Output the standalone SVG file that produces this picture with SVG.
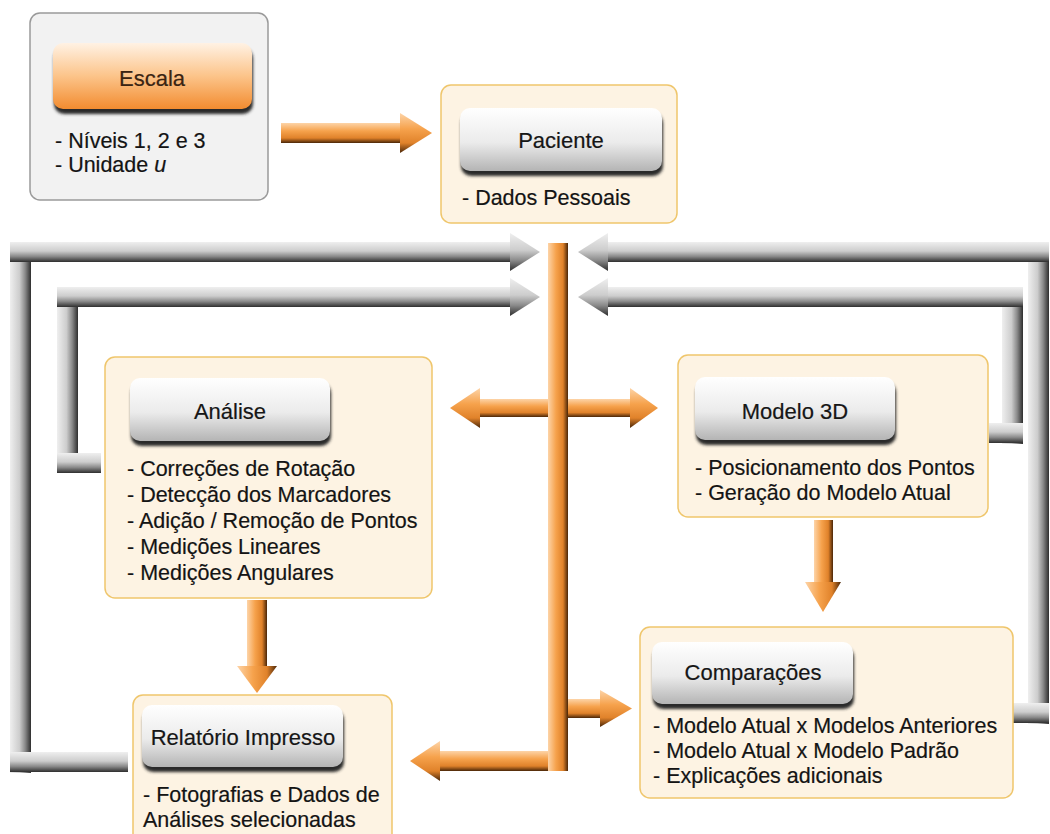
<svg xmlns="http://www.w3.org/2000/svg" width="1050" height="834" viewBox="0 0 1050 834">
<style>
.title{font-family:"Liberation Sans",Arial,sans-serif;font-size:22px;fill:#161616;stroke:#161616;stroke-width:0.2;text-anchor:middle}
.body{font-family:"Liberation Sans",Arial,sans-serif;font-size:21.5px;fill:#141414;stroke:#141414;stroke-width:0.2}
.box{fill:#fdf3e3;stroke:#efc66c;stroke-width:1.5}
.gbox{fill:#f2f2f2;stroke:#9a9a9a;stroke-width:1.5}
.shadow{fill:#2a2a2a;filter:url(#blur)}
</style>
<defs>
<filter id="blur" x="-10%" y="-20%" width="120%" height="150%"><feGaussianBlur stdDeviation="1.6"/></filter>
<linearGradient id="oV" x1="0" y1="0" x2="0" y2="1">
<stop offset="0" stop-color="#fdd4a8"/><stop offset="0.4" stop-color="#f6a24c"/><stop offset="0.75" stop-color="#e0822a"/><stop offset="1" stop-color="#4a2608"/>
</linearGradient>
<linearGradient id="oH" x1="0" y1="0" x2="1" y2="0">
<stop offset="0" stop-color="#fdd4a8"/><stop offset="0.4" stop-color="#f6a24c"/><stop offset="0.75" stop-color="#e0822a"/><stop offset="1" stop-color="#4a2608"/>
</linearGradient>
<linearGradient id="gV" x1="0" y1="0" x2="0" y2="1">
<stop offset="0" stop-color="#efefef"/><stop offset="0.45" stop-color="#cdcdcd"/><stop offset="0.72" stop-color="#8a8a8a"/><stop offset="1" stop-color="#2e2e2e"/>
</linearGradient>
<linearGradient id="gH" x1="0" y1="0" x2="1" y2="0">
<stop offset="0" stop-color="#efefef"/><stop offset="0.45" stop-color="#cdcdcd"/><stop offset="0.72" stop-color="#8a8a8a"/><stop offset="1" stop-color="#2e2e2e"/>
</linearGradient>
<linearGradient id="btnO" x1="0" y1="0" x2="0" y2="1">
<stop offset="0" stop-color="#fff2e4"/><stop offset="0.5" stop-color="#fcc48a"/><stop offset="1" stop-color="#f28c30"/>
</linearGradient>
<linearGradient id="btnG" x1="0" y1="0" x2="0" y2="1">
<stop offset="0" stop-color="#ffffff"/><stop offset="0.55" stop-color="#ebebeb"/><stop offset="1" stop-color="#b4b4b4"/>
</linearGradient>
</defs>

<g id="connectors">
  <!-- gray feedback pipes, left outer -->
  <rect x="10" y="242" width="21" height="531" fill="url(#gH)"/>
  <rect x="10" y="242" width="502" height="20" fill="url(#gV)"/>
  <polygon points="510,233 540,252 510,271" fill="url(#gV)"/>
  <rect x="10" y="752" width="118" height="20" fill="url(#gV)"/>
  <!-- left inner -->
  <rect x="57" y="287" width="21" height="186" fill="url(#gH)"/>
  <rect x="57" y="287" width="455" height="20" fill="url(#gV)"/>
  <polygon points="510,278 540,297 510,316" fill="url(#gV)"/>
  <rect x="57" y="453" width="44" height="20" fill="url(#gV)"/>
  <!-- right outer -->
  <rect x="1028" y="242" width="21" height="482" fill="url(#gH)"/>
  <rect x="606" y="242" width="443" height="20" fill="url(#gV)"/>
  <polygon points="608,233 578,252 608,271" fill="url(#gV)"/>
  <rect x="1013" y="703" width="36" height="20" fill="url(#gV)"/>
  <!-- right inner -->
  <rect x="1002" y="287" width="21" height="157" fill="url(#gH)"/>
  <rect x="606" y="287" width="417" height="20" fill="url(#gV)"/>
  <polygon points="608,278 578,297 608,316" fill="url(#gV)"/>
  <rect x="989" y="423" width="34" height="20" fill="url(#gV)"/>

  <!-- orange: Escala to Paciente -->
  <rect x="281" y="123" width="122" height="20" fill="url(#oV)"/>
  <polygon points="400,113 432,133 400,153" fill="url(#oV)"/>
  <!-- double arrow Análise / Modelo 3D -->
  <rect x="478" y="399" width="154" height="18" fill="url(#oV)"/>
  <polygon points="480,388 450,408 480,428" fill="url(#oV)"/>
  <polygon points="630,388 658,408 630,428" fill="url(#oV)"/>
  <!-- bottom to Relatório -->
  <rect x="438" y="751" width="130" height="20" fill="url(#oV)"/>
  <polygon points="440,741 410,761 440,781" fill="url(#oV)"/>
  <!-- branch to Comparações -->
  <rect x="566" y="699" width="36" height="19" fill="url(#oV)"/>
  <polygon points="600,690 632,708.5 600,727" fill="url(#oV)"/>
  <!-- main vertical trunk -->
  <rect x="548" y="243" width="20" height="528" fill="url(#oH)"/>
  <!-- Análise to Relatório -->
  <rect x="247" y="600" width="20" height="68" fill="url(#oH)"/>
  <polygon points="237,666 257,693 277,666" fill="url(#oH)"/>
  <!-- Modelo 3D to Comparações -->
  <rect x="814" y="520" width="19" height="64" fill="url(#oH)"/>
  <polygon points="805,582 823,612 841,582" fill="url(#oH)"/>
</g>

<g id="escala">
  <rect class="gbox" x="30" y="13" width="238" height="187" rx="10"/>
  <rect class="shadow" x="54" y="48" width="199" height="66" rx="10"/>
  <rect x="53" y="43" width="199" height="66" rx="10" fill="url(#btnO)"/>
  <text class="title" x="152" y="86" style="fill:#3a2412;stroke:#3a2412">Escala</text>
  <text class="body" x="55" y="148">- Níveis 1, 2 e 3</text>
  <text class="body" x="55" y="172">- Unidade <tspan font-style="italic">u</tspan></text>
</g>

<g id="paciente">
  <rect class="box" x="441" y="85" width="236" height="138" rx="10"/>
  <rect class="shadow" x="461" y="113" width="202" height="63" rx="10"/>
  <rect x="460" y="108" width="202" height="63" rx="10" fill="url(#btnG)"/>
  <text class="title" x="561" y="148">Paciente</text>
  <text class="body" x="462" y="205">- Dados Pessoais</text>
</g>

<g id="analise">
  <rect class="box" x="105" y="357" width="327" height="241" rx="10"/>
  <rect class="shadow" x="131" y="383" width="200" height="63" rx="10"/>
  <rect x="130" y="378" width="200" height="63" rx="10" fill="url(#btnG)"/>
  <text class="title" x="230" y="419">Análise</text>
  <text class="body" x="127" y="476">- Correções de Rotação</text>
  <text class="body" x="127" y="502">- Detecção dos Marcadores</text>
  <text class="body" x="127" y="528">- Adição / Remoção de Pontos</text>
  <text class="body" x="127" y="554">- Medições Lineares</text>
  <text class="body" x="127" y="580">- Medições Angulares</text>
</g>

<g id="modelo3d">
  <rect class="box" x="678" y="355" width="310" height="162" rx="10"/>
  <rect class="shadow" x="696" y="382" width="200" height="63" rx="10"/>
  <rect x="695" y="377" width="200" height="63" rx="10" fill="url(#btnG)"/>
  <text class="title" x="795" y="419">Modelo 3D</text>
  <text class="body" x="695" y="475">- Posicionamento dos Pontos</text>
  <text class="body" x="695" y="500">- Geração do Modelo Atual</text>
</g>

<g id="comparacoes">
  <rect class="box" x="640" y="627" width="373" height="171" rx="10"/>
  <rect class="shadow" x="653" y="647" width="201" height="62" rx="10"/>
  <rect x="652" y="642" width="201" height="62" rx="10" fill="url(#btnG)"/>
  <text class="title" x="753" y="680">Comparações</text>
  <text class="body" x="653" y="733">- Modelo Atual x Modelos Anteriores</text>
  <text class="body" x="653" y="758">- Modelo Atual x Modelo Padrão</text>
  <text class="body" x="653" y="783">- Explicações adicionais</text>
</g>

<g id="relatorio">
  <rect class="box" x="133" y="695" width="259" height="160" rx="10"/>
  <rect class="shadow" x="143" y="710" width="201" height="62" rx="10"/>
  <rect x="142" y="705" width="201" height="62" rx="10" fill="url(#btnG)"/>
  <text class="title" x="243" y="745">Relatório Impresso</text>
  <text class="body" x="143" y="802">- Fotografias e Dados de</text>
  <text class="body" x="143" y="827">Análises selecionadas</text>
</g>
</svg>
